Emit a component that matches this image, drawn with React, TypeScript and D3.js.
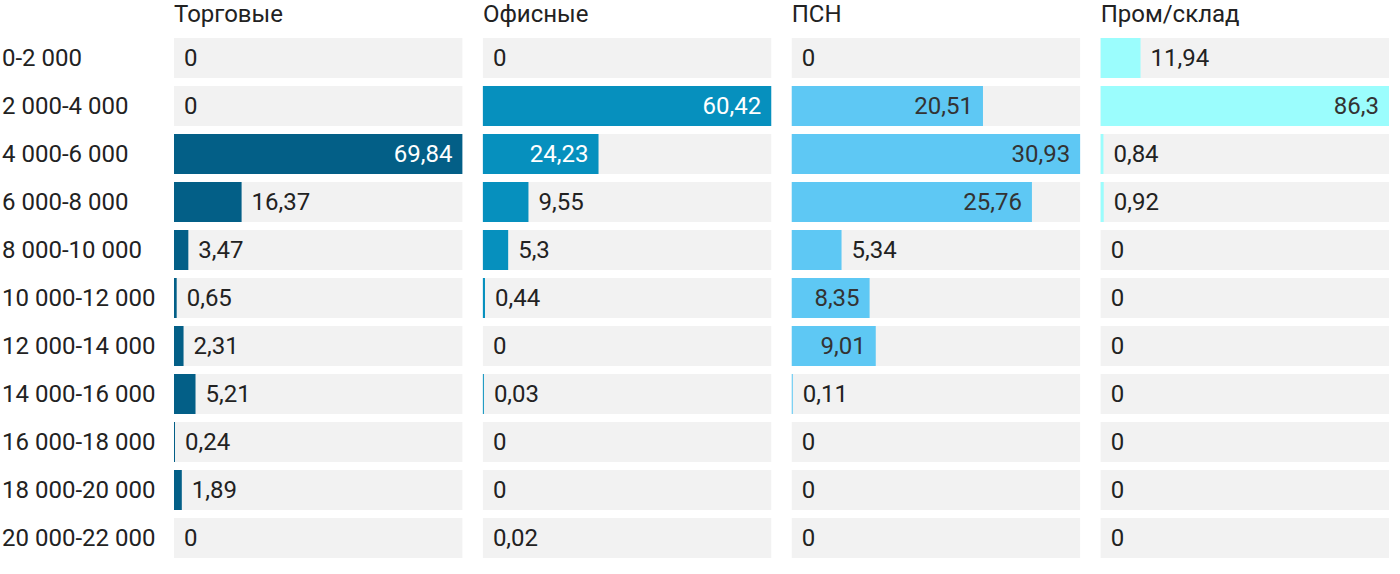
import * as d3 from "d3"
import { useEffect, useRef } from "react"

const ranges = [
  "0-2 000",
  "2 000-4 000",
  "4 000-6 000",
  "6 000-8 000",
  "8 000-10 000",
  "10 000-12 000",
  "12 000-14 000",
  "14 000-16 000",
  "16 000-18 000",
  "18 000-20 000",
  "20 000-22 000",
]

const seriesNames = ["Торговые", "Офисные", "ПСН", "Пром/склад"]

const retail = [0, 0, 69.84, 16.37, 3.47, 0.65, 2.31, 5.21, 0.24, 1.89, 0]
const office = [0, 60.42, 24.23, 9.55, 5.3, 0.44, 0, 0.03, 0, 0, 0.02]
const psn = [0, 20.51, 30.93, 25.76, 5.34, 8.35, 9.01, 0.11, 0, 0, 0]
const industrial = [11.94, 86.3, 0.84, 0.92, 0, 0, 0, 0, 0, 0, 0]

const seriesValues = [retail, office, psn, industrial]
const barColors = ["#035f87", "#0690be", "#5ec8f4", "#9bfdfd"]
const insideText = ["#ffffff", "#ffffff", "#333333", "#333333"]

const W = 1400
const H = 574

export default function App() {
  const svgRef = useRef<SVGSVGElement>(null)

  useEffect(() => {
    if (!svgRef.current) return
    document.body.style.margin = "0"

    const svg = d3.select(svgRef.current)
    svg.selectAll("*").remove()

    const font = "Roboto, sans-serif"
    const fontSize = 24

    const left = 174
    const right = 1389
    const gap = 20.5
    const panelW = (right - left - gap * 3) / 4

    const y = d3
      .scaleBand<string>()
      .domain(ranges)
      .range([38, 558])
      .paddingInner(8 / 48)
      .paddingOuter(0)

    // row labels
    svg
      .append("g")
      .selectAll("text")
      .data(ranges)
      .join("text")
      .attr("x", 2)
      .attr("y", (d) => (y(d) as number) + y.bandwidth() / 2)
      .attr("dy", "0.35em")
      .style("font-family", font)
      .style("font-size", `${fontSize}px`)
      .attr("fill", "#222")
      .text((d) => d)

    seriesNames.forEach((name, si) => {
      const values = seriesValues[si]
      const x0 = left + si * (panelW + gap)
      const x = d3
        .scaleLinear()
        .domain([0, d3.max(values) as number])
        .range([0, panelW])

      const g = svg.append("g").attr("transform", `translate(${x0},0)`)

      g.append("text")
        .attr("x", 0)
        .attr("y", 22)
        .style("font-family", font)
        .style("font-size", `${fontSize}px`)
        .attr("fill", "#222")
        .text(name)

      // background bars
      g.selectAll(".bg")
        .data(ranges)
        .join("rect")
        .attr("class", "bg")
        .attr("x", 0)
        .attr("y", (d) => y(d) as number)
        .attr("width", panelW)
        .attr("height", y.bandwidth())
        .attr("fill", "#f2f2f2")

      // tiny values still get a hairline, like the original
      const barW = (v: number) => {
        const px = x(v)
        return px < 0.12 ? 0 : Math.max(1, px)
      }

      g.selectAll(".bar")
        .data(values)
        .join("rect")
        .attr("class", "bar")
        .attr("x", 0)
        .attr("y", (_, i) => y(ranges[i]) as number)
        .attr("width", (v) => barW(v))
        .attr("height", y.bandwidth())
        .attr("fill", barColors[si])

      const labels = g
        .selectAll(".val")
        .data(values)
        .join("text")
        .attr("class", "val")
        .attr("y", (_, i) => (y(ranges[i]) as number) + y.bandwidth() / 2)
        .attr("dy", "0.35em")
        .style("font-family", font)
        .style("font-size", `${fontSize}px`)
        .text((v) => d3.format(".2~f")(v).replace(".", ","))

      labels.each(function (v) {
        const el = d3.select(this as SVGTextElement)
        const tw = (this as SVGTextElement).getComputedTextLength()
        const bw = barW(v)
        if (bw > tw + 20) {
          el.attr("x", bw - 10).attr("text-anchor", "end").attr("fill", insideText[si])
        } else {
          el.attr("x", bw + 10).attr("text-anchor", "start").attr("fill", "#222")
        }
      })
    })
  }, [])

  return <svg ref={svgRef} width={W} height={H} style={{ display: "block" }} />
}
